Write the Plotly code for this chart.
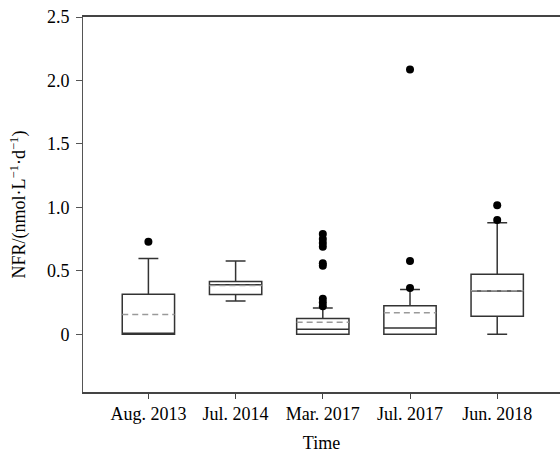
import plotly.graph_objects as go

categories = ["Aug. 2013", "Jul. 2014", "Mar. 2017", "Jul. 2017", "Jun. 2018"]
q1 = [0.0, 0.313, 0.0, 0.0, 0.142]
median = [0.0, 0.39, 0.04, 0.05, 0.34]
q3 = [0.315, 0.415, 0.124, 0.225, 0.473]
lower_whisker = [0.0, 0.263, 0.0, 0.0, 0.0]
upper_whisker = [0.597, 0.578, 0.207, 0.352, 0.878]
means = [0.155, 0.385, 0.095, 0.170, 0.342]
outliers = [
    [0.728],
    [],
    [0.79, 0.75, 0.72, 0.69, 0.56, 0.54, 0.28, 0.25, 0.22],
    [2.087, 0.578, 0.365],
    [1.017, 0.90],
]
y_ticks = [0, 0.5, 1.0, 1.5, 2.0, 2.5]
y_tick_labels = ["0", "0.5", "1.0", "1.5", "2.0", "2.5"]

FONT = "Liberation Serif, Times New Roman, serif"
box_w = 0.6

fig = go.Figure()
for i, c in enumerate(categories):
    fig.add_trace(go.Box(
        x=[i], q1=[q1[i]], median=[median[i]], q3=[q3[i]],
        lowerfence=[lower_whisker[i]], upperfence=[upper_whisker[i]],
        boxpoints=False, width=box_w, whiskerwidth=0.38,
        line=dict(color="#333333", width=1.5),
        fillcolor="rgba(255,255,255,0)", showlegend=False, name=c,
    ))
for i, m in enumerate(means):
    fig.add_trace(go.Scatter(
        x=[i - box_w / 2, i + box_w / 2], y=[m, m], mode="lines",
        line=dict(color="#9a9a9a", width=1.5, dash="6px,4px"),
        showlegend=False, hoverinfo="skip",
    ))
ox, oy = [], []
for i, vals in enumerate(outliers):
    for v in vals:
        ox.append(i)
        oy.append(v)
fig.add_trace(go.Scatter(
    x=ox, y=oy, mode="markers",
    marker=dict(color="black", size=8), showlegend=False,
))

fig.update_layout(
    width=560, height=454,
    margin=dict(l=83, r=0, t=17, b=62),
    paper_bgcolor="white", plot_bgcolor="white",
    font=dict(family=FONT, size=18, color="black"),
)
fig.update_xaxes(
    range=[-0.75, 4.72], tickmode="array",
    tickvals=list(range(len(categories))), ticktext=categories,
    ticks="outside", ticklen=5, tickcolor="#444", tickwidth=1,
    showline=True, linecolor="#444", linewidth=1.5, mirror=True,
    showgrid=False, zeroline=False, automargin=False,
    title=dict(text="Time", font=dict(family=FONT, size=18), standoff=13),
    tickfont=dict(family=FONT, size=18),
)
fig.update_yaxes(
    range=[-0.455, 2.5], tickmode="array",
    tickvals=y_ticks, ticktext=y_tick_labels,
    ticks="outside", ticklen=6, tickcolor="#555", tickwidth=1,
    showline=True, linecolor="#555", linewidth=1,
    showgrid=False, zeroline=False, ticklabelstandoff=3, automargin=False,
    title=dict(text="NFR/(nmol·L<sup>−1</sup>·d<sup>−1</sup>)",
               font=dict(family=FONT, size=18), standoff=16),
    tickfont=dict(family=FONT, size=18),
)

fig.write_html(
    "out.html",
    config={"displayModeBar": False},
    post_script="document.body.style.margin='0';document.body.style.overflow='hidden';",
)
